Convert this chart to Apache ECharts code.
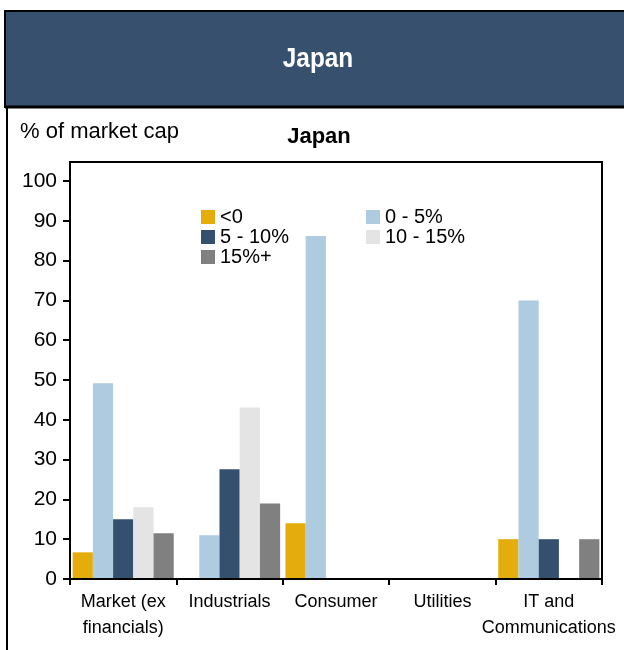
<!DOCTYPE html>
<html>
<head>
<meta charset="utf-8">
<script src="https://cdn.jsdelivr.net/npm/echarts@6/dist/echarts.min.js"></script>
<style>
html,body{margin:0;padding:0;background:#fff;}
#chart{width:624px;height:650px;}
</style>
</head>
<body>
<div id="chart"></div>
<script>
var categories = ['Market (ex\nfinancials)', 'Industrials', 'Consumer', 'Utilities', 'IT and\nCommunications'];
var seriesNames = ['<0', '0 - 5%', '5 - 10%', '10 - 15%', '15%+'];
var valsNeg   = [6.7, 0, 14.0, 0, 10.0];
var vals0to5  = [49.2, 11.0, 86.2, 0, 70.0];
var vals5to10 = [15.0, 27.6, 0, 0, 10.0];
var vals10to15= [18.0, 43.1, 0, 0, 0];
var vals15p   = [11.5, 19.0, 0, 0, 10.0];
var colors = ['#E4AD0B', '#AECBE0', '#34506E', '#E4E4E4', '#808080'];
var yTicks = [0, 10, 20, 30, 40, 50, 60, 70, 80, 90, 100];

var allVals = [valsNeg, vals0to5, vals5to10, vals10to15, vals15p];
var font = 'Liberation Sans, Arial, sans-serif';

var chart = echarts.init(document.getElementById('chart'));
var option = {
  backgroundColor: '#ffffff',
  animation: false,
  color: colors,
  title: [
    {text: 'Japan', left: 319, textAlign: 'center', top: 126, padding: 0,
     textStyle: {color: '#000', fontSize: 22, fontWeight: 'bold', fontFamily: font}}
  ],
  legend: [
    {orient: 'vertical', left: 201, top: 207, padding: 0, itemWidth: 14, itemHeight: 14, itemGap: 0,
     icon: 'rect', data: [seriesNames[0], seriesNames[2], seriesNames[4]],
     textStyle: {fontSize: 20, color: '#000', fontFamily: font}},
    {orient: 'vertical', left: 366, top: 207, padding: 0, itemWidth: 14, itemHeight: 14, itemGap: 0,
     icon: 'rect', data: [seriesNames[1], seriesNames[3]],
     textStyle: {fontSize: 20, color: '#000', fontFamily: font}}
  ],
  grid: {left: 70, right: 22, top: 181, bottom: 71},
  xAxis: {
    type: 'category', data: categories,
    axisLine: {lineStyle: {color: '#000', width: 2}},
    axisTick: {show: true, length: 6, lineStyle: {color: '#000', width: 2}},
    axisLabel: {color: '#000', fontSize: 18, fontFamily: font, margin: 10, lineHeight: 26, interval: 0}
  },
  yAxis: {
    type: 'value', min: 0, max: 100, interval: 10,
    splitLine: {show: false},
    axisLine: {show: true, lineStyle: {color: '#000', width: 2}},
    axisTick: {show: true, length: 7, lineStyle: {color: '#000', width: 2}},
    axisLabel: {color: '#000', fontSize: 21, fontFamily: font, margin: 13}
  },
  series: allVals.map(function (v, i) {
    return {name: seriesNames[i], type: 'bar', data: v, barGap: '0%', barCategoryGap: '5%',
            itemStyle: {color: colors[i]}};
  }),
  graphic: [
    {type: 'rect', z: -1, shape: {x: 5, y: 11, width: 700, height: 96},
     style: {fill: '#37506E', stroke: '#000', lineWidth: 2}},
    {type: 'rect', z: -1, shape: {x: 7, y: 107, width: 700, height: 700},
     style: {fill: '#fff', stroke: '#000', lineWidth: 2}},
    {type: 'line', z: 0, shape: {x1: 5, y1: 107, x2: 624, y2: 107},
     style: {stroke: '#000', lineWidth: 3}},
    {type: 'text', z: 100, x: 318, y: 59, scaleX: 0.87, originX: 0,
     style: {text: 'Japan', fill: '#fff', fontSize: 28, fontWeight: 'bold', fontFamily: font,
             textAlign: 'center', textVerticalAlign: 'middle'}},
    {type: 'rect', z: 100, shape: {x: 70, y: 162, width: 532, height: 417},
     style: {fill: 'none', stroke: '#000', lineWidth: 2}},
    {type: 'text', z: 100, left: 20, top: 121,
     style: {text: '% of market cap', fill: '#000', fontSize: 22, fontFamily: font}}
  ]
};
chart.setOption(option);
</script>
</body>
</html>
